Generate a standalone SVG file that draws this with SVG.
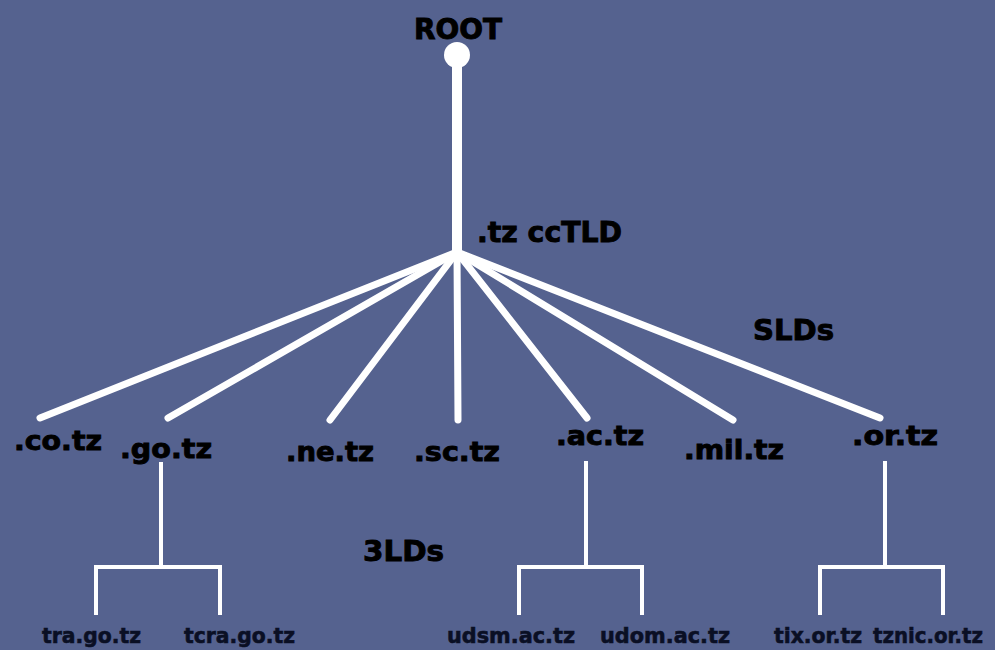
<svg xmlns="http://www.w3.org/2000/svg" width="995" height="650" viewBox="0 0 995 650">
<style>
.t{font-family:"DejaVu Sans","Liberation Sans",sans-serif;font-weight:bold;fill:#000;stroke:#000;stroke-width:0.9;}
.big{font-size:28px;}
.lab{font-size:27px;}
.sm{font-size:22px;stroke-width:0.6;fill:#0a0f24;stroke:#0a0f24;}
.thick{stroke:#fff;stroke-width:7;stroke-linecap:round;fill:none;}
.thin{stroke:#fff;stroke-width:4;fill:none;}
</style>
<rect width="995" height="650" fill="#55628f"/>
<g id="connectors">
<line class="thick" x1="457" y1="55" x2="457" y2="252" style="stroke-width:10"/>
<line class="thick" x1="457" y1="252" x2="40" y2="418"/>
<line class="thick" x1="457" y1="252" x2="168" y2="418"/>
<line class="thick" x1="457" y1="252" x2="330" y2="420"/>
<line class="thick" x1="457" y1="252" x2="458" y2="420"/>
<line class="thick" x1="457" y1="252" x2="587" y2="418"/>
<line class="thick" x1="457" y1="252" x2="733" y2="420"/>
<line class="thick" x1="457" y1="252" x2="880" y2="418"/>
<path class="thin" d="M161 462V567M96 615V567H220V615"/>
<path class="thin" d="M586 461V567M519 615V567H642V615"/>
<path class="thin" d="M885 461V567M820 615V567H943V615"/>
</g>
<g id="root"><circle cx="457" cy="55" r="13" fill="#fff"/><text class="t big" x="414" y="39" textLength="88" lengthAdjust="spacingAndGlyphs">ROOT</text></g>
<g id="tz"><text class="t big" x="477" y="242" textLength="145" lengthAdjust="spacingAndGlyphs">.tz ccTLD</text></g>
<g id="slds"><text class="t big" x="753" y="340" textLength="81" lengthAdjust="spacingAndGlyphs">SLDs</text></g>
<g id="tlds3"><text class="t big" x="363" y="561" textLength="81" lengthAdjust="spacingAndGlyphs">3LDs</text></g>
<g id="co"><text class="t lab" x="14" y="450" textLength="88" lengthAdjust="spacingAndGlyphs">.co.tz</text></g>
<g id="go"><text class="t lab" x="120" y="458" textLength="92" lengthAdjust="spacingAndGlyphs">.go.tz</text></g>
<g id="ne"><text class="t lab" x="286" y="461" textLength="88" lengthAdjust="spacingAndGlyphs">.ne.tz</text></g>
<g id="sc"><text class="t lab" x="414" y="461" textLength="86" lengthAdjust="spacingAndGlyphs">.sc.tz</text></g>
<g id="ac"><text class="t lab" x="556" y="445" textLength="88" lengthAdjust="spacingAndGlyphs">.ac.tz</text></g>
<g id="mil"><text class="t lab" x="684" y="459" textLength="100" lengthAdjust="spacingAndGlyphs">.mil.tz</text></g>
<g id="or"><text class="t lab" x="852" y="445" textLength="86" lengthAdjust="spacingAndGlyphs">.or.tz</text></g>
<g id="tra"><text class="t sm" x="42" y="643" textLength="99" lengthAdjust="spacingAndGlyphs">tra.go.tz</text></g>
<g id="tcra"><text class="t sm" x="184" y="643" textLength="111" lengthAdjust="spacingAndGlyphs">tcra.go.tz</text></g>
<g id="udsm"><text class="t sm" x="447" y="643" textLength="128" lengthAdjust="spacingAndGlyphs">udsm.ac.tz</text></g>
<g id="udom"><text class="t sm" x="600" y="643" textLength="130" lengthAdjust="spacingAndGlyphs">udom.ac.tz</text></g>
<g id="tix"><text class="t sm" x="774" y="643" textLength="88" lengthAdjust="spacingAndGlyphs">tix.or.tz</text></g>
<g id="tznic"><text class="t sm" x="873" y="643" textLength="110" lengthAdjust="spacingAndGlyphs">tznic.or.tz</text></g>
</svg>
